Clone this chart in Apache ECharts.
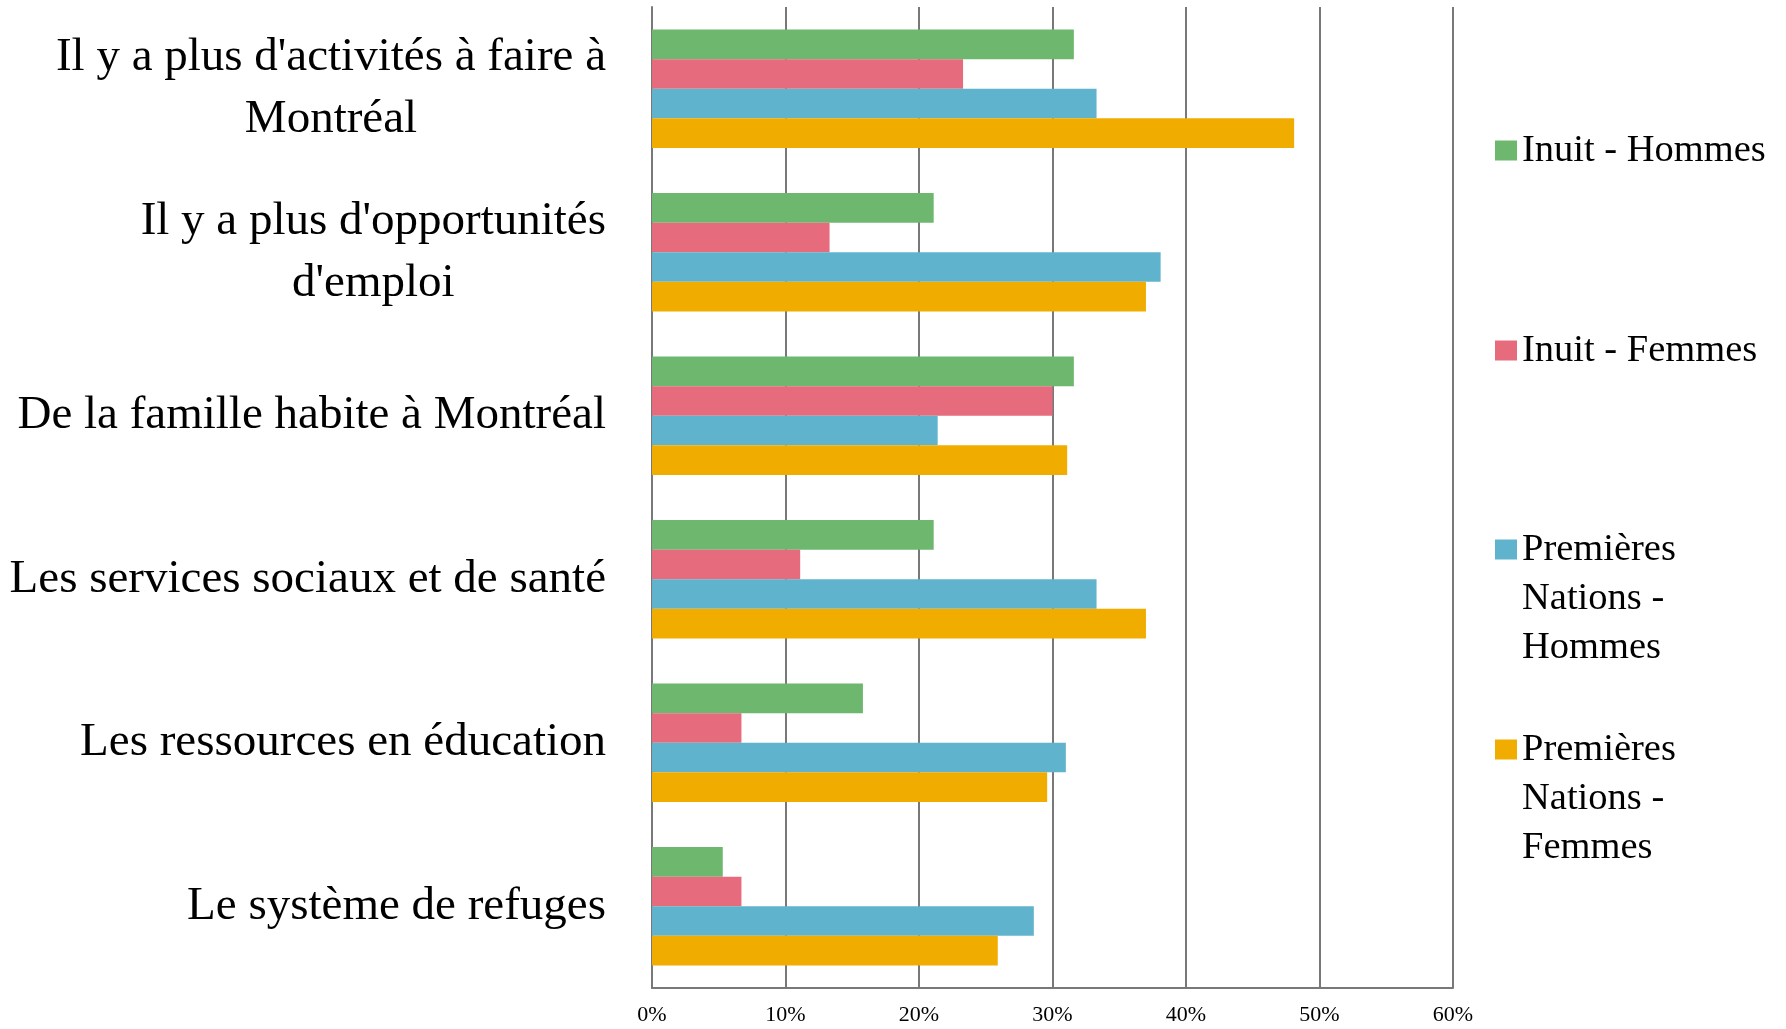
<!DOCTYPE html>
<html>
<head>
<meta charset="utf-8">
<script src="https://cdn.jsdelivr.net/npm/echarts@6/dist/echarts.min.js"></script>
<style>
  html, body { margin: 0; padding: 0; background: #fff; }
</style>
</head>
<body>
<!-- zone du graphique -->
<div id="main" style="width: 1786px;height:1029px;"></div>
<script>
// catégories (raisons), de haut en bas
var categories = [
    "Il y a plus d'activités à faire à\nMontréal",
    "Il y a plus d'opportunités\nd'emploi",
    "De la famille habite à Montréal",
    "Les services sociaux et de santé",
    "Les ressources en éducation",
    "Le système de refuges"
];
var seriesNames = ['Inuit - Hommes', 'Inuit - Femmes', 'Premières Nations - Hommes', 'Premières Nations - Femmes'];
var legendLabels = ['Inuit - Hommes', 'Inuit - Femmes', 'Premières\nNations -\nHommes', 'Premières\nNations -\nFemmes'];
var colors = ['#6db76e', '#e66b7d', '#60b3cc', '#f0ad00'];

// valeurs en %
var inuitHommes = [31.6, 21.1, 31.6, 21.1, 15.8, 5.3];
var inuitFemmes = [23.3, 13.3, 30.0, 11.1, 6.7, 6.7];
var pnHommes = [33.3, 38.1, 21.4, 33.3, 31.0, 28.6];
var pnFemmes = [48.1, 37.0, 31.1, 37.0, 29.6, 25.9];
var xTicks = [0, 10, 20, 30, 40, 50, 60];

var serif = '"Liberation Serif", "DejaVu Serif", serif';
var gridColor = '#787878';
var L = 49; // hauteur de ligne de la légende

var allData = [inuitHommes, inuitFemmes, pnHommes, pnFemmes];
var legendTops = [126, 326, 427, 627];

// une légende par série : le carré reste aligné sur la première ligne
var legends = seriesNames.map(function (name, i) {
    var multi = legendLabels[i].indexOf('\n') >= 0;
    return {
        data: [name],
        orient: 'vertical',
        left: 1495,
        top: legendTops[i],
        padding: 0,
        icon: 'rect',
        itemWidth: 22,
        itemHeight: 20,
        selectedMode: false,
        formatter: function () { return (multi ? '\n\n' : '') + legendLabels[i]; },
        textStyle: {
            fontFamily: serif,
            fontSize: 38.5,
            color: '#000',
            lineHeight: L
        }
    };
});

var series = seriesNames.map(function (name, i) {
    return {
        name: name,
        type: 'bar',
        data: allData[i],
        barGap: '0%',
        barCategoryGap: '27.6%',
        itemStyle: { color: colors[i] },
        emphasis: { disabled: true },
        animation: false
    };
});

var option = {
    color: colors,
    animation: false,
    legend: legends,
    grid: {
        left: 652,
        top: 7,
        width: 801,
        height: 981,
        containLabel: false
    },
    xAxis: {
        type: 'value',
        min: 0,
        max: 60,
        interval: 10,
        axisLine: { show: true, lineStyle: { color: gridColor, width: 2 } },
        axisTick: { show: false },
        splitLine: { show: true, lineStyle: { color: gridColor, width: 2 } },
        axisLabel: {
            margin: 16,
            fontFamily: serif,
            fontSize: 22,
            color: '#000',
            formatter: function (v) { return xTicks.indexOf(v) >= 0 ? v + '%' : ''; }
        }
    },
    yAxis: {
        type: 'category',
        inverse: true,
        data: categories,
        axisLine: { show: true, lineStyle: { color: gridColor, width: 2 } },
        axisTick: { show: false },
        axisLabel: {
            interval: 0,
            margin: 46,
            align: 'right',
            formatter: function (v) {
                return v.split('\n').map(function (s) { return '{c|' + s + '}'; }).join('\n');
            },
            rich: {
                c: {
                    align: 'center',
                    fontFamily: serif,
                    fontSize: 47,
                    lineHeight: 62,
                    color: '#000'
                }
            }
        }
    },
    series: series
};

var myChart = echarts.init(document.getElementById('main'));
myChart.setOption(option);
window.onresize = function () {
    myChart.resize();
};
</script>
</body>
</html>
